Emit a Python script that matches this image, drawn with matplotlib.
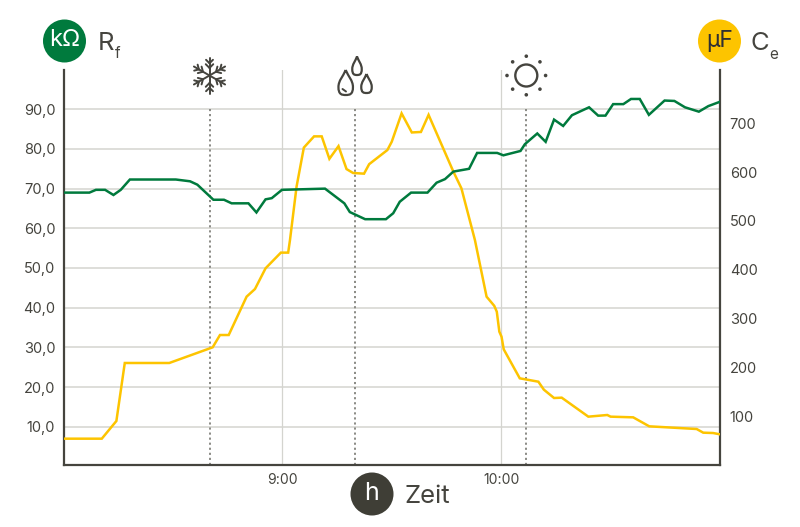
import numpy as np
import matplotlib
matplotlib.use("Agg")
import matplotlib.pyplot as plt
from matplotlib.patches import Circle, PathPatch
from matplotlib.path import Path

plt.rcParams['font.family'] = ['Inter', 'DejaVu Sans']

# minutes after 08:00
rf_time = [0, 7.1, 8.9, 11.4, 13.7, 15.7, 18.2, 30.8, 34.7, 36.7, 41.1, 44.0, 46.1, 50.7, 52.9, 55.4, 57.1, 59.9,
           71.7, 74.0, 77.0, 78.5, 82.7, 88.4, 90.4, 92.2, 95.3, 99.8, 102.3, 104.6, 106.9, 111.2, 113.4, 118.9,
           120.6, 125.3, 126.5, 129.9, 132.2, 134.5, 137.0, 139.4, 144.1, 146.6, 148.6, 150.7, 153.5, 155.6, 158.0,
           160.5, 164.8, 167.5, 170.4, 174.2, 176.8, 180]
rf_values = [69.0, 69.0, 69.7, 69.7, 68.4, 69.7, 72.3, 72.3, 71.85, 71.0, 67.2, 67.2, 66.3, 66.3, 64.0, 67.3, 67.6, 69.7,
             70.0, 68.4, 66.3, 64.1, 62.3, 62.3, 63.8, 66.7, 69.0, 69.0, 71.5, 72.4, 74.3, 75.0, 79.0, 79.0,
             78.4, 79.5, 81.2, 83.9, 81.8, 87.4, 85.8, 88.5, 90.5, 88.4, 88.4, 91.3, 91.3, 92.6, 92.6,
             88.6, 92.2, 92.1, 90.5, 89.4, 90.8, 91.9]
ce_time = [0, 10.5, 14.5, 16.8, 29.0, 40.9, 42.9, 45.3, 50.2, 52.5, 55.4, 59.6, 61.6, 62.1, 63.9, 65.9, 68.7, 70.8,
           72.9, 75.4, 77.6, 79.4, 82.4, 83.8, 88.8, 90.0, 92.7, 95.5, 98.0, 100.1, 106.9, 109.1, 112.8, 116.0,
           118.1, 118.8, 119.5, 120.1, 120.7, 125.1, 130.2, 131.7, 134.5, 136.6, 143.9, 149.1, 150.0, 156.2,
           160.6, 173.6, 175.4, 178.1, 180]
ce_values = [53.9, 53.9, 90.1, 208.9, 208.9, 241, 266.2, 266.2, 344.7, 360.4, 402.8, 434.9, 434.9, 460.8, 570, 650, 673, 673,
             627, 653, 606, 598, 596.6, 616, 645, 662, 720, 681, 682, 717, 600.7, 566.6, 460.8, 344.7,
             326, 314, 273, 262.8, 236.9, 177.5, 170.6, 154.3, 137.2, 137.9, 99, 102.4, 99, 97.6,
             79.2, 73.7, 66.2, 65.5, 62.8]
rf_ticks = [10, 20, 30, 40, 50, 60, 70, 80, 90]
rf_tick_labels = ['10,0', '20,0', '30,0', '40,0', '50,0', '60,0', '70,0', '80,0', '90,0']
ce_ticks = [100, 200, 300, 400, 500, 600, 700]
time_ticks = [60, 120]
time_tick_labels = ['9:00', '10:00']
event_times = [40.1, 79.8, 126.9]

DARK = '#45443e'
GREEN = '#007a3d'
YELLOW = '#fdc400'
GRID = '#d4d4cf'
W, H = 800, 527
RF_LIM = (0.35, 99.9)

fig = plt.figure(figsize=(8, 5.27), dpi=100, facecolor='white')
ax = fig.add_axes([63.5 / W, 1 - 465 / H, 656.5 / W, 395 / H])
ax.set_xlim(0, 180)
ax.set_ylim(*RF_LIM)
ax.set_yticks(rf_ticks, rf_tick_labels)
ax.set_xticks(time_ticks, time_tick_labels)
ax.tick_params(axis='y', length=0, pad=6, labelsize=10.5, labelcolor=DARK)
ax.tick_params(axis='x', length=0, pad=6, labelsize=10, labelcolor=DARK)
ax.grid(axis='y', color=GRID, lw=1.1)
ax.grid(axis='x', color=GRID, lw=0.9)
ax.set_axisbelow(True)
for s in ['left', 'bottom', 'right']:
    ax.spines[s].set_color(DARK)
    ax.spines[s].set_linewidth(1.6)
ax.spines['top'].set_visible(False)
for t in event_times:
    ax.plot([t, t], [RF_LIM[0], 90], color='#8a8a85', lw=1.4, ls=(0, (1.1, 1.5)), zorder=1.5)

ax2 = ax.twinx()
ax2.set_ylim(0, 808.9)
ax2.set_yticks(ce_ticks)
ax2.tick_params(axis='y', length=0, pad=7, labelsize=10.5, labelcolor=DARK)
for s in ax2.spines.values():
    s.set_visible(False)
ax2.plot(ce_time, ce_values, color=YELLOW, lw=1.8, solid_joinstyle='miter', zorder=3)

ax3 = ax.twinx()
ax3.set_ylim(*RF_LIM)
ax3.set_yticks([])
for s in ax3.spines.values():
    s.set_visible(False)
ax3.plot(rf_time, rf_values, color=GREEN, lw=1.8, solid_joinstyle='miter', zorder=4)

# decorations in pixel coordinates
ov = fig.add_axes([0, 0, 1, 1], zorder=10)
ov.set_xlim(0, W)
ov.set_ylim(H, 0)
ov.axis('off')
ov.patch.set_alpha(0)

def badge(cx, cy, color, label, tc, size):
    ov.add_patch(Circle((cx, cy), 21.5, color=color, lw=0))
    ov.text(cx, cy - 0.5, label, color=tc, ha='center', va='center', fontsize=size)

badge(64.5, 41, GREEN, 'k\u03a9', 'white', 17)
badge(719.5, 41, YELLOW, '\u03bcF', '#2f2f33', 16.5)
badge(372, 494, '#3f3e36', 'h', 'white', 18)
ov.text(97.5, 50, 'R', color=DARK, fontsize=18.5, va='baseline')
ov.text(114.5, 58, 'f', color=DARK, fontsize=11, va='baseline')
ov.text(751, 50, 'C', color=DARK, fontsize=18.5, va='baseline')
ov.text(769, 59, 'e', color=DARK, fontsize=11, va='baseline')
ov.text(404.5, 503, 'Zeit', color=DARK, fontsize=18.5, va='baseline')

# snowflake
cx, cy, R = 209.5, 75.5, 18
for a in np.deg2rad(np.arange(0, 360, 60) + 90):
    d = np.array([np.cos(a), np.sin(a)])
    n = np.array([-d[1], d[0]])
    ov.plot([cx, cx + R * d[0]], [cy, cy + R * d[1]], color=DARK, lw=1.4, solid_capstyle='round')
    for r, b in [(0.42, 0.26), (0.68, 0.24)]:
        base = np.array([cx, cy]) + R * r * d
        for sgn in (-1, 1):
            tip = base + R * b * (d * 0.8 + sgn * n * 0.8)
            ov.plot([base[0], tip[0]], [base[1], tip[1]], color=DARK, lw=1.4, solid_capstyle='round')

# drops
def drop(cx, top, w, h, lw=1.6):
    r = w / 2
    by = top + h
    verts = [(cx, top),
             (cx + r * 0.35, top + h * 0.25), (cx + r, top + h * 0.42), (cx + r, top + h * 0.68),
             (cx + r, by - h * 0.02), (cx + r * 0.55, by), (cx, by),
             (cx - r * 0.55, by), (cx - r, by - h * 0.02), (cx - r, top + h * 0.68),
             (cx - r, top + h * 0.42), (cx - r * 0.35, top + h * 0.25), (cx, top)]
    codes = [Path.MOVETO] + [Path.CURVE4] * 12
    ov.add_patch(PathPatch(Path(verts, codes), fc='none', ec=DARK, lw=lw))

drop(345.7, 70, 14.5, 25)
drop(357, 56.5, 9.5, 18.5)
drop(366.5, 74, 10.5, 19)
ov.plot([342.5, 346], [89, 91.5], color=DARK, lw=1.4, solid_capstyle='round')

# sun
sx, sy = 526.3, 75.5
ov.add_patch(Circle((sx, sy), 11, fc='none', ec=DARK, lw=1.7))
for a in np.deg2rad(np.arange(0, 360, 45)):
    ov.add_patch(Circle((sx + 19.3 * np.cos(a), sy + 19.3 * np.sin(a)), 1.8, color=DARK, lw=0))

fig.savefig('out.png', dpi=100)
